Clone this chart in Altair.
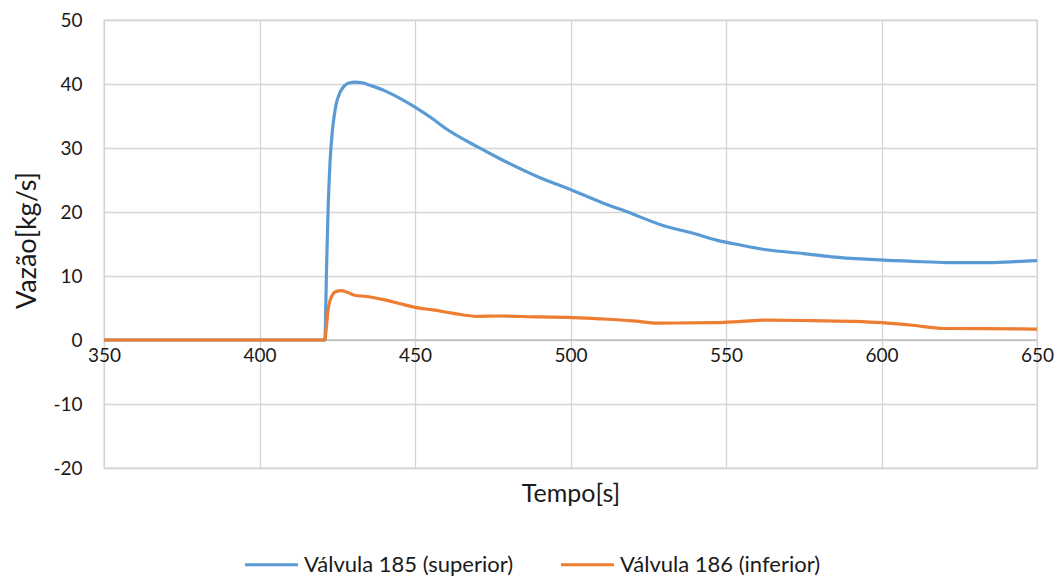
import altair as alt
import pandas as pd

t_185 = [350, 421, 421.6, 422.1, 422.7, 423.5, 424.5, 426, 427.5, 429, 430.7, 433,
         435.5, 440, 445, 450, 455, 460, 470, 477, 490, 499, 510, 520, 529, 540,
         547, 555, 563, 575, 584, 596, 610, 621, 635, 645, 650]
v_185 = [0, 0, 12, 21, 28, 33, 36.5, 38.8, 39.8, 40.2, 40.3, 40.2,
         39.8, 39.0, 37.8, 36.4, 34.8, 33.0, 30.2, 28.4, 25.4, 23.7, 21.5, 19.7, 18.0, 16.6,
         15.6, 14.8, 14.1, 13.5, 13.0, 12.6, 12.3, 12.1, 12.1, 12.3, 12.4]

t_186 = [350, 421, 421.5, 422, 422.7, 423.5, 424.8, 426.4, 428, 429.5, 430.5, 434.5,
         440, 445, 450, 455.8, 462, 470, 477, 490, 499, 510, 520, 528, 547, 555, 563,
         575, 591, 600, 610, 620, 645, 650]
v_186 = [0, 0, 2, 4.5, 6.2, 7.1, 7.6, 7.7, 7.5, 7.2, 7.0, 6.8,
         6.3, 5.7, 5.1, 4.7, 4.2, 3.7, 3.75, 3.6, 3.55, 3.3, 3.0, 2.65, 2.7, 2.9, 3.1,
         3.05, 2.9, 2.7, 2.3, 1.8, 1.75, 1.7]

series_names = ["Válvula 185 (superior)", "Válvula 186 (inferior)"]
series_colors = ["#5B9BD5", "#ED7D31"]
x_ticks = [350, 400, 450, 500, 550, 600, 650]
y_ticks = [-20, -10, 0, 10, 20, 30, 40, 50]

rows = []
for t, v in zip(t_185, v_185):
    rows.append({"Tempo": t, "Vazao": v, "Serie": series_names[0], "o": 0})
for t, v in zip(t_186, v_186):
    rows.append({"Tempo": t, "Vazao": v, "Serie": series_names[1], "o": 1})
df = pd.DataFrame(rows)

FONT = "Lato"
TXT = "#1a1a1a"

x_scale = alt.Scale(domain=[350, 650], nice=False, zero=False)
y_scale = alt.Scale(domain=[-20, 50], nice=False)

zero = alt.Chart(pd.DataFrame({"y": [0]})).mark_rule(color="#bfbfbf", strokeWidth=1.5).encode(
    y=alt.Y("y:Q", scale=y_scale)
)

lines = alt.Chart(df).mark_line(strokeWidth=3.2, interpolate="monotone").encode(
    x=alt.X("Tempo:Q", scale=x_scale,
            axis=alt.Axis(values=x_ticks, grid=True, gridColor="#d4d4d4", gridWidth=1.3,
                          domain=False, ticks=False, offset=-128, labelPadding=6,
                          labelFlush=False, labelBound=False,
                          labelFontSize=19, labelColor=TXT, labelFont=FONT,
                          title="Tempo[s]", titleFont=FONT, titleFontSize=25,
                          titleFontWeight="normal", titleColor=TXT,
                          titleY=153, titleBaseline="middle")),
    y=alt.Y("Vazao:Q", scale=y_scale,
            axis=alt.Axis(values=y_ticks, grid=True, gridColor="#d4d4d4", gridWidth=1.3,
                          domain=False, ticks=False, labelPadding=22,
                          labelExpr="'' + datum.value",
                          labelFontSize=19, labelColor=TXT, labelFont=FONT,
                          title="Vazão[kg/s]", titleFont=FONT, titleFontSize=27,
                          titleFontWeight="normal", titleColor=TXT,
                          titleX=-77, titleY=220, titleBaseline="middle", titleAngle=-90)),
    color=alt.Color("Serie:N", scale=alt.Scale(domain=series_names, range=series_colors),
                    legend=alt.Legend(title=None, orient="none", direction="horizontal",
                                      legendX=139, legendY=516,
                                      symbolType="stroke", symbolSize=2809,
                                      symbolStrokeWidth=3.2, labelFontSize=22,
                                      labelFont=FONT, labelColor=TXT, labelOffset=4,
                                      labelLimit=400,
                                      columnPadding=40, padding=0)),
    order="o:Q",
)

chart = alt.layer(zero, lines).properties(
    width=933, height=448,
    autosize=alt.AutoSizeParams(type="none"),
    padding={"left": 96, "top": 12, "right": 17, "bottom": 140},
).configure_view(stroke="#d4d4d4", strokeWidth=1.3)

chart.save("out.html", embed_options={"renderer": "svg", "actions": False})
